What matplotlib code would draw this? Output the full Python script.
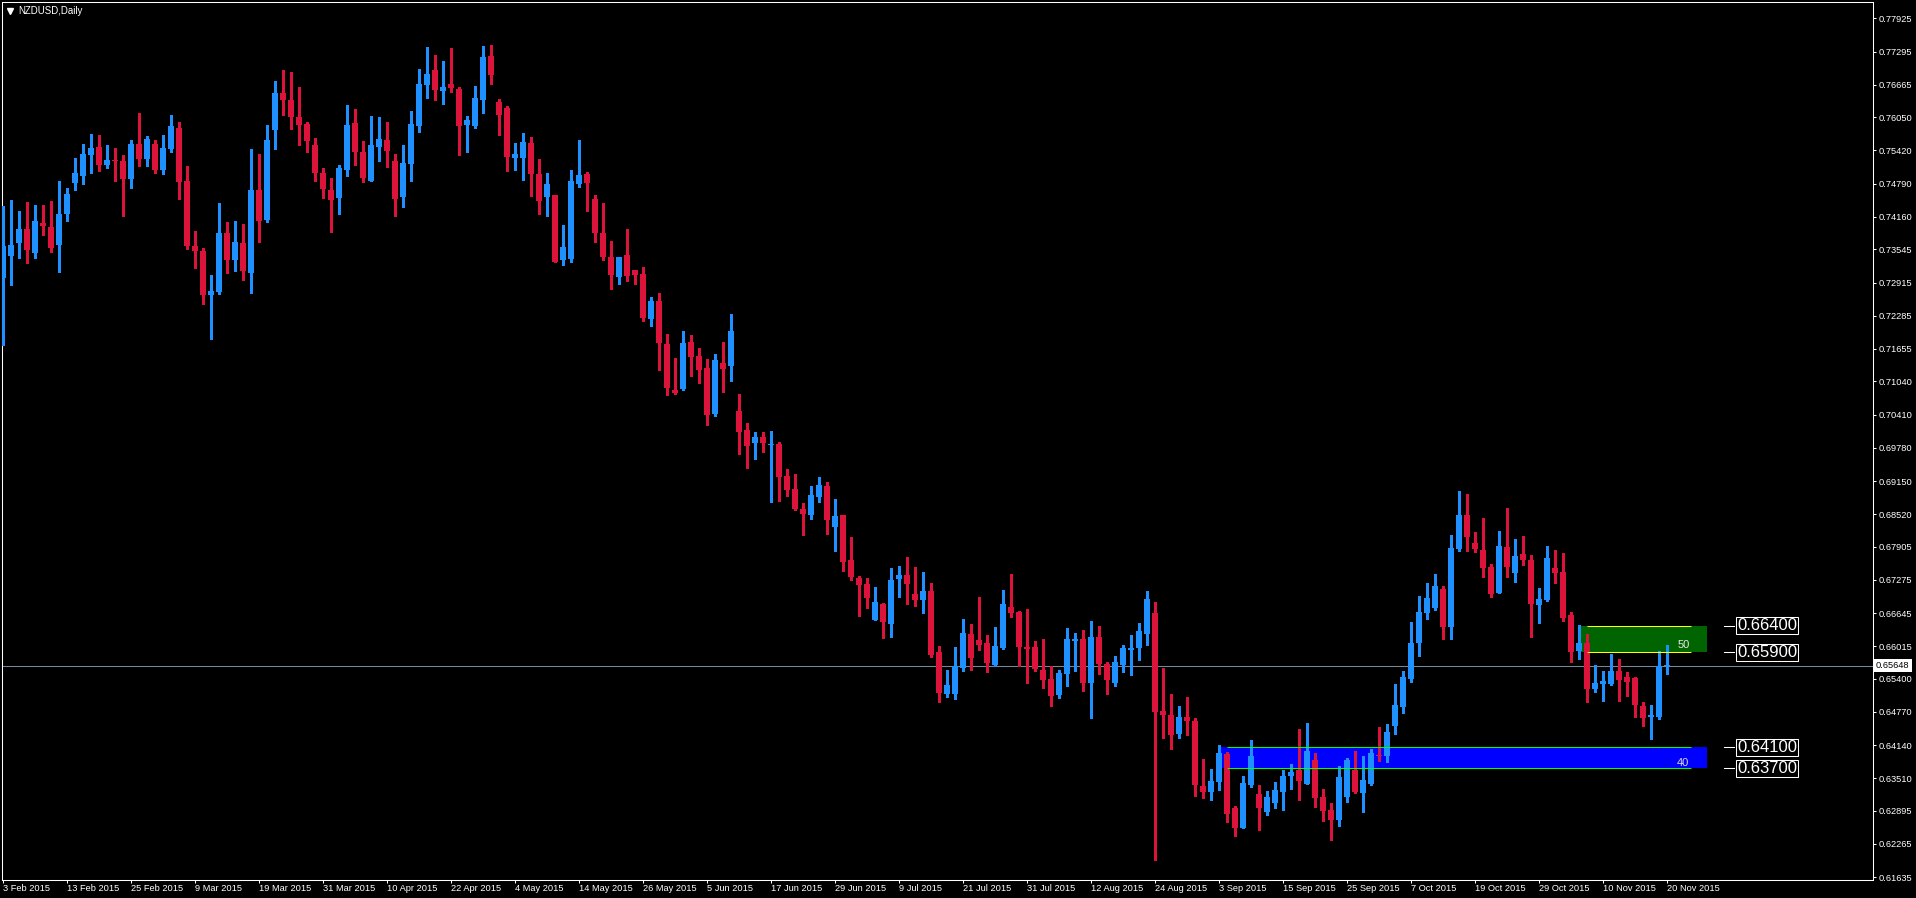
import matplotlib
matplotlib.use('Agg')
import matplotlib.pyplot as plt
from matplotlib.patches import Rectangle
from matplotlib.lines import Line2D
from matplotlib.transforms import blended_transform_factory

plt.rcParams['font.family'] = ['Liberation Sans', 'DejaVu Sans']

# NZDUSD daily, 3 Feb 2015 .. 20 Nov 2015 (one entry per trading day)
opens = [
    0.7301, 0.7342, 0.7367, 0.7393, 0.7348, 0.7405, 0.7397, 0.7363, 0.7422, 0.7480,
    0.7494, 0.7534, 0.7549, 0.7515, 0.7524, 0.7522, 0.7488, 0.7554, 0.7526, 0.7554,
    0.7505, 0.7545, 0.7585, 0.7484, 0.7361, 0.7351, 0.7268, 0.7274, 0.7386, 0.7334,
    0.7367, 0.7310, 0.7467, 0.7410, 0.7581, 0.7651, 0.7638, 0.7606, 0.7592, 0.7552,
    0.7499, 0.7467, 0.7452, 0.7505, 0.7594, 0.7539, 0.7484, 0.7549, 0.7562, 0.7522,
    0.7454, 0.7516, 0.7589, 0.7666, 0.7695, 0.7655, 0.7668, 0.7659, 0.7590, 0.7589,
    0.7638, 0.7721, 0.7634, 0.7623, 0.7528, 0.7528, 0.7556, 0.7497, 0.7454, 0.7458,
    0.7334, 0.7336, 0.7479, 0.7497, 0.7450, 0.7386, 0.7340, 0.7302, 0.7344, 0.7315,
    0.7308, 0.7222, 0.7257, 0.7175, 0.7088, 0.7090, 0.7179, 0.7152, 0.7129, 0.7042,
    0.7139, 0.7133, 0.7048, 0.7012, 0.6987, 0.6999, 0.6983, 0.6985, 0.6925, 0.6900,
    0.6862, 0.6851, 0.6885, 0.6906, 0.6828, 0.6851, 0.6765, 0.6731, 0.6720, 0.6651,
    0.6682, 0.6644, 0.6729, 0.6737, 0.6701, 0.6689, 0.6706, 0.6591, 0.6511, 0.6511,
    0.6560, 0.6625, 0.6614, 0.6608, 0.6566, 0.6598, 0.6676, 0.6667, 0.6600, 0.6600,
    0.6557, 0.6540, 0.6509, 0.6549, 0.6612, 0.6615, 0.6532, 0.6619, 0.6568, 0.6532,
    0.6566, 0.6595, 0.6598, 0.6625, 0.6665, 0.6479, 0.6471, 0.6435, 0.6467, 0.6460,
    0.6337, 0.6325, 0.6344, 0.6397, 0.6295, 0.6257, 0.6338, 0.6321, 0.6287, 0.6304,
    0.6325, 0.6356, 0.6367, 0.6340, 0.6386, 0.6316, 0.6291, 0.6272, 0.6316, 0.6367,
    0.6323, 0.6340, 0.6395, 0.6393, 0.6450, 0.6486, 0.6540, 0.6608, 0.6665, 0.6674,
    0.6710, 0.6638, 0.6786, 0.6851, 0.6798, 0.6784, 0.6752, 0.6703, 0.6790, 0.6741,
    0.6777, 0.6765, 0.6680, 0.6689, 0.6750, 0.6743, 0.6661, 0.6593, 0.6608, 0.6521,
    0.6530, 0.6530, 0.6555, 0.6543, 0.6541, 0.6488, 0.6467, 0.6467, 0.65648,
]
highs = [
    0.7437, 0.7448, 0.7427, 0.7444, 0.7439, 0.7439, 0.7446, 0.7484, 0.7470, 0.7528,
    0.7554, 0.7573, 0.7571, 0.7552, 0.7547, 0.7534, 0.7562, 0.7613, 0.7570, 0.7562,
    0.7571, 0.7609, 0.7596, 0.7513, 0.7389, 0.7357, 0.7306, 0.7442, 0.7406, 0.7408,
    0.7403, 0.7545, 0.7535, 0.7590, 0.7674, 0.7695, 0.7691, 0.7663, 0.7596, 0.7566,
    0.7509, 0.7490, 0.7515, 0.7628, 0.7621, 0.7560, 0.7608, 0.7606, 0.7596, 0.7535,
    0.7552, 0.7617, 0.7697, 0.7738, 0.7723, 0.7712, 0.7736, 0.7663, 0.7608, 0.7664,
    0.7740, 0.7742, 0.7640, 0.7626, 0.7556, 0.7575, 0.7568, 0.7526, 0.7499, 0.7458,
    0.7401, 0.7505, 0.7562, 0.7501, 0.7458, 0.7442, 0.7370, 0.7340, 0.7393, 0.7315,
    0.7321, 0.7265, 0.7271, 0.7194, 0.7148, 0.7200, 0.7192, 0.7167, 0.7147, 0.7156,
    0.7179, 0.7232, 0.7080, 0.7025, 0.7008, 0.7008, 0.7010, 0.6989, 0.6938, 0.6928,
    0.6873, 0.6906, 0.6923, 0.6913, 0.6881, 0.6851, 0.6809, 0.6735, 0.6731, 0.6714,
    0.6684, 0.6750, 0.6754, 0.6771, 0.6752, 0.6743, 0.6722, 0.6602, 0.6557, 0.6600,
    0.6653, 0.6644, 0.6695, 0.6623, 0.6638, 0.6708, 0.6739, 0.6669, 0.6672, 0.6612,
    0.6615, 0.6564, 0.6557, 0.6636, 0.6627, 0.6632, 0.6650, 0.6640, 0.6572, 0.6583,
    0.6604, 0.6623, 0.6646, 0.6706, 0.6686, 0.6560, 0.6511, 0.6488, 0.6505, 0.6466,
    0.6388, 0.6369, 0.6414, 0.6401, 0.6299, 0.6356, 0.6424, 0.6338, 0.6327, 0.6344,
    0.6367, 0.6378, 0.6445, 0.6456, 0.6399, 0.6331, 0.6304, 0.6375, 0.6390, 0.6403,
    0.6393, 0.6407, 0.6449, 0.6454, 0.6530, 0.6555, 0.6648, 0.6697, 0.6722, 0.6739,
    0.6716, 0.6813, 0.6896, 0.6890, 0.6818, 0.6845, 0.6758, 0.6820, 0.6864, 0.6805,
    0.6811, 0.6775, 0.6712, 0.6792, 0.6784, 0.6779, 0.6667, 0.6642, 0.6625, 0.6566,
    0.6555, 0.6587, 0.6577, 0.6553, 0.6543, 0.6496, 0.6490, 0.6593, 0.6604,
]
lows = [
    0.7173, 0.7286, 0.7339, 0.7329, 0.7339, 0.7382, 0.7350, 0.7312, 0.7408, 0.7467,
    0.7479, 0.7499, 0.7503, 0.7509, 0.7484, 0.7418, 0.7471, 0.7513, 0.7513, 0.7499,
    0.7497, 0.7539, 0.7450, 0.7355, 0.7319, 0.7251, 0.7185, 0.7270, 0.7310, 0.7313,
    0.7296, 0.7272, 0.7368, 0.7406, 0.7545, 0.7609, 0.7583, 0.7552, 0.7539, 0.7484,
    0.7452, 0.7387, 0.7422, 0.7494, 0.7515, 0.7482, 0.7484, 0.7522, 0.7511, 0.7418,
    0.7435, 0.7484, 0.7577, 0.7642, 0.7638, 0.7630, 0.7653, 0.7534, 0.7539, 0.7585,
    0.7613, 0.7668, 0.7571, 0.7503, 0.7505, 0.7486, 0.7456, 0.7422, 0.7418, 0.7330,
    0.7325, 0.7330, 0.7473, 0.7427, 0.7368, 0.7334, 0.7279, 0.7289, 0.7295, 0.7289,
    0.7219, 0.7209, 0.7126, 0.7078, 0.7080, 0.7088, 0.7114, 0.7101, 0.7021, 0.7038,
    0.7084, 0.7105, 0.6966, 0.6940, 0.6957, 0.6970, 0.6875, 0.6877, 0.6887, 0.6860,
    0.6813, 0.6843, 0.6875, 0.6815, 0.6782, 0.6744, 0.6727, 0.6659, 0.6674, 0.6651,
    0.6617, 0.6619, 0.6695, 0.6682, 0.6678, 0.6665, 0.6581, 0.6496, 0.6505, 0.6502,
    0.6555, 0.6557, 0.6595, 0.6553, 0.6564, 0.6596, 0.6657, 0.6564, 0.6532, 0.6555,
    0.6522, 0.6488, 0.6504, 0.6526, 0.6555, 0.6517, 0.6466, 0.6549, 0.6511, 0.6526,
    0.6553, 0.6547, 0.6576, 0.6604, 0.6196, 0.6428, 0.6407, 0.6428, 0.6433, 0.6318,
    0.6314, 0.6310, 0.6329, 0.6268, 0.6242, 0.6257, 0.6335, 0.6253, 0.6282, 0.6295,
    0.6291, 0.6331, 0.6310, 0.6340, 0.6297, 0.6270, 0.6234, 0.6261, 0.6306, 0.6323,
    0.6287, 0.6338, 0.6384, 0.6382, 0.6435, 0.6475, 0.6534, 0.6583, 0.6653, 0.6670,
    0.6615, 0.6615, 0.6782, 0.6782, 0.6780, 0.6733, 0.6695, 0.6703, 0.6733, 0.6724,
    0.6756, 0.6619, 0.6646, 0.6688, 0.6722, 0.6650, 0.6572, 0.6577, 0.6496, 0.6515,
    0.6498, 0.6528, 0.6498, 0.6507, 0.6467, 0.6450, 0.6426, 0.6464, 0.6549,
]
closes = [
    0.7360, 0.7363, 0.7393, 0.7353, 0.7408, 0.7399, 0.7357, 0.7422, 0.7460, 0.7499,
    0.7535, 0.7547, 0.7515, 0.7524, 0.7522, 0.7488, 0.7554, 0.7526, 0.7564, 0.7505,
    0.7547, 0.7589, 0.7482, 0.7361, 0.7351, 0.7268, 0.7276, 0.7386, 0.7334, 0.7368,
    0.7313, 0.7467, 0.7408, 0.7562, 0.7651, 0.7638, 0.7606, 0.7590, 0.7560, 0.7499,
    0.7469, 0.7448, 0.7509, 0.7590, 0.7539, 0.7490, 0.7552, 0.7564, 0.7541, 0.7450,
    0.7518, 0.7592, 0.7668, 0.7687, 0.7657, 0.7663, 0.7661, 0.7589, 0.7600, 0.7642,
    0.7719, 0.7685, 0.7609, 0.7530, 0.7535, 0.7558, 0.7497, 0.7446, 0.7479, 0.7330,
    0.7359, 0.7484, 0.7496, 0.7480, 0.7386, 0.7340, 0.7306, 0.7340, 0.7304, 0.7306,
    0.7224, 0.7257, 0.7177, 0.7092, 0.7082, 0.7177, 0.7150, 0.7126, 0.7040, 0.7145,
    0.7128, 0.7200, 0.7008, 0.6982, 0.6999, 0.6987, 0.6985, 0.6923, 0.6898, 0.6862,
    0.6853, 0.6889, 0.6908, 0.6841, 0.6849, 0.6761, 0.6733, 0.6718, 0.6693, 0.6686,
    0.6648, 0.6727, 0.6737, 0.6720, 0.6689, 0.6706, 0.6585, 0.6513, 0.6528, 0.6564,
    0.6627, 0.6579, 0.6604, 0.6570, 0.6602, 0.6682, 0.6665, 0.6600, 0.6596, 0.6558,
    0.6538, 0.6507, 0.6551, 0.6615, 0.6615, 0.6532, 0.6619, 0.6568, 0.6538, 0.6572,
    0.6598, 0.6598, 0.6631, 0.6691, 0.6477, 0.6471, 0.6433, 0.6467, 0.6460, 0.6338,
    0.6325, 0.6346, 0.6399, 0.6283, 0.6257, 0.6342, 0.6393, 0.6295, 0.6316, 0.6329,
    0.6356, 0.6363, 0.6346, 0.6403, 0.6314, 0.6289, 0.6272, 0.6354, 0.6386, 0.6325,
    0.6348, 0.6399, 0.6393, 0.6439, 0.6490, 0.6543, 0.6608, 0.6667, 0.6693, 0.6716,
    0.6638, 0.6788, 0.6851, 0.6809, 0.6786, 0.6750, 0.6701, 0.6792, 0.6752, 0.6773,
    0.6765, 0.6682, 0.6691, 0.6769, 0.6741, 0.6655, 0.6591, 0.6608, 0.6521, 0.6532,
    0.6536, 0.6555, 0.6538, 0.6534, 0.6490, 0.6466, 0.6471, 0.65648, 0.65648,
]

date_labels = [
    '3 Feb 2015', '13 Feb 2015', '25 Feb 2015', '9 Mar 2015', '19 Mar 2015',
    '31 Mar 2015', '10 Apr 2015', '22 Apr 2015', '4 May 2015', '14 May 2015',
    '26 May 2015', '5 Jun 2015', '17 Jun 2015', '29 Jun 2015', '9 Jul 2015',
    '21 Jul 2015', '31 Jul 2015', '12 Aug 2015', '24 Aug 2015', '3 Sep 2015',
    '15 Sep 2015', '25 Sep 2015', '7 Oct 2015', '19 Oct 2015', '29 Oct 2015',
    '10 Nov 2015', '20 Nov 2015',
]
price_ticks = [
    0.77925, 0.77295, 0.76665, 0.76050, 0.75420, 0.74790, 0.74160, 0.73545,
    0.72915, 0.72285, 0.71655, 0.71040, 0.70410, 0.69780, 0.69150, 0.68520,
    0.67905, 0.67275, 0.66645, 0.66015, 0.65400, 0.64770, 0.64140, 0.63510,
    0.62895, 0.62265, 0.61635,
]
last_price = 0.65648
sell_zone = [0.66400, 0.65900]
buy_zone = [0.64100, 0.63700]
sell_pips = '50'
buy_pips = '40'

W, H, DPI = 1916, 898, 100
BULL, BEAR = '#1E90FF', '#DC143C'

fig = plt.figure(figsize=(W / DPI, H / DPI), dpi=DPI, facecolor='black')
ax = fig.add_axes([2 / W, 1 - 880 / H, 1871 / W, 878 / H], facecolor='black')
ax.set_xlim(-0.125, 233.75)
ax.set_ylim(0.61581, 0.78237)

# zones (behind candles)
ax.add_patch(Rectangle((197.1, sell_zone[1]), 213 - 197.1, sell_zone[0] - sell_zone[1],
                       facecolor='#006400', linewidth=0, zorder=1))
ax.add_patch(Rectangle((152.0, buy_zone[1]), 213 - 152.0, buy_zone[0] - buy_zone[1],
                       facecolor='#0000FF', linewidth=0, zorder=1))

# bid line
ax.axhline(last_price, color='#778899', linewidth=0.75, zorder=2)

# candles
n = len(opens)
idx = list(range(n))
colors = [BULL if c >= o else BEAR for o, c in zip(opens, closes)]
ax.vlines(idx, lows, highs, colors=colors, linewidth=0.75, antialiased=False, zorder=3)
bottoms = [min(o, c) for o, c in zip(opens, closes)]
heights = [max(abs(c - o), 0.00019) for o, c in zip(opens, closes)]
ax.bar(idx, heights, bottom=bottoms, width=0.7, color=colors, linewidth=0,
       antialiased=False, zorder=4)

# zone border lines
ax.hlines(sell_zone, 198, 211, colors='#FFFF00', linewidth=0.75, zorder=5)
ax.hlines(buy_zone, 153, 211, colors='#00FF00', linewidth=0.75, zorder=5)
ax.text(210.8, sell_zone[1] + 0.0004, sell_pips, color='#E8E8E8', fontsize=8,
        ha='right', va='bottom', zorder=6)
ax.text(210.8, buy_zone[1], buy_pips, color='#D8D8F0', fontsize=8,
        ha='right', va='bottom', zorder=6)

# price level tags
for lvl in sell_zone + buy_zone:
    ax.plot([215.1, 216.4], [lvl, lvl], color='white', linewidth=0.75, zorder=5)
    ax.text(216.75, lvl, f'{lvl:.5f}', color='white', fontsize=12, ha='left', va='center',
            zorder=6, bbox=dict(boxstyle='square,pad=0.06', fc='black', ec='white', lw=0.75))

# axes styling
for sp in ax.spines.values():
    sp.set_color('white')
    sp.set_linewidth(0.75)

ax.yaxis.tick_right()
ax.set_yticks(price_ticks)
ax.set_yticklabels([f'{v:.5f}' for v in price_ticks])
ax.tick_params(axis='y', colors='white', length=2.2, width=0.75, pad=2, labelsize=6.7)

ax.set_xticks(range(0, n, 8))
ax.set_xticklabels(date_labels)
for lab in ax.get_xticklabels():
    lab.set_horizontalalignment('left')
ax.tick_params(axis='x', colors='white', length=2.2, width=0.75, pad=1, labelsize=6.7)

# current price tag on the axis
tr = blended_transform_factory(fig.transFigure, ax.transData)
ax.text(1876 / W, last_price, f'{last_price:.5f}', transform=tr, color='black', fontsize=6.7,
        ha='left', va='center', clip_on=False, zorder=7,
        bbox=dict(boxstyle='square,pad=0.25', fc='white', ec='white', lw=0))

# title
fig.add_artist(Line2D([9.5 / W], [1 - 10.5 / H], marker='v', markersize=4.5,
                      color='white', linestyle='none', transform=fig.transFigure))
fig.text(18 / W, 1 - 11 / H, 'NZDUSD,Daily', color='white', fontsize=7, va='center', ha='left')

fig.savefig('out.png', dpi=DPI, facecolor='black')
